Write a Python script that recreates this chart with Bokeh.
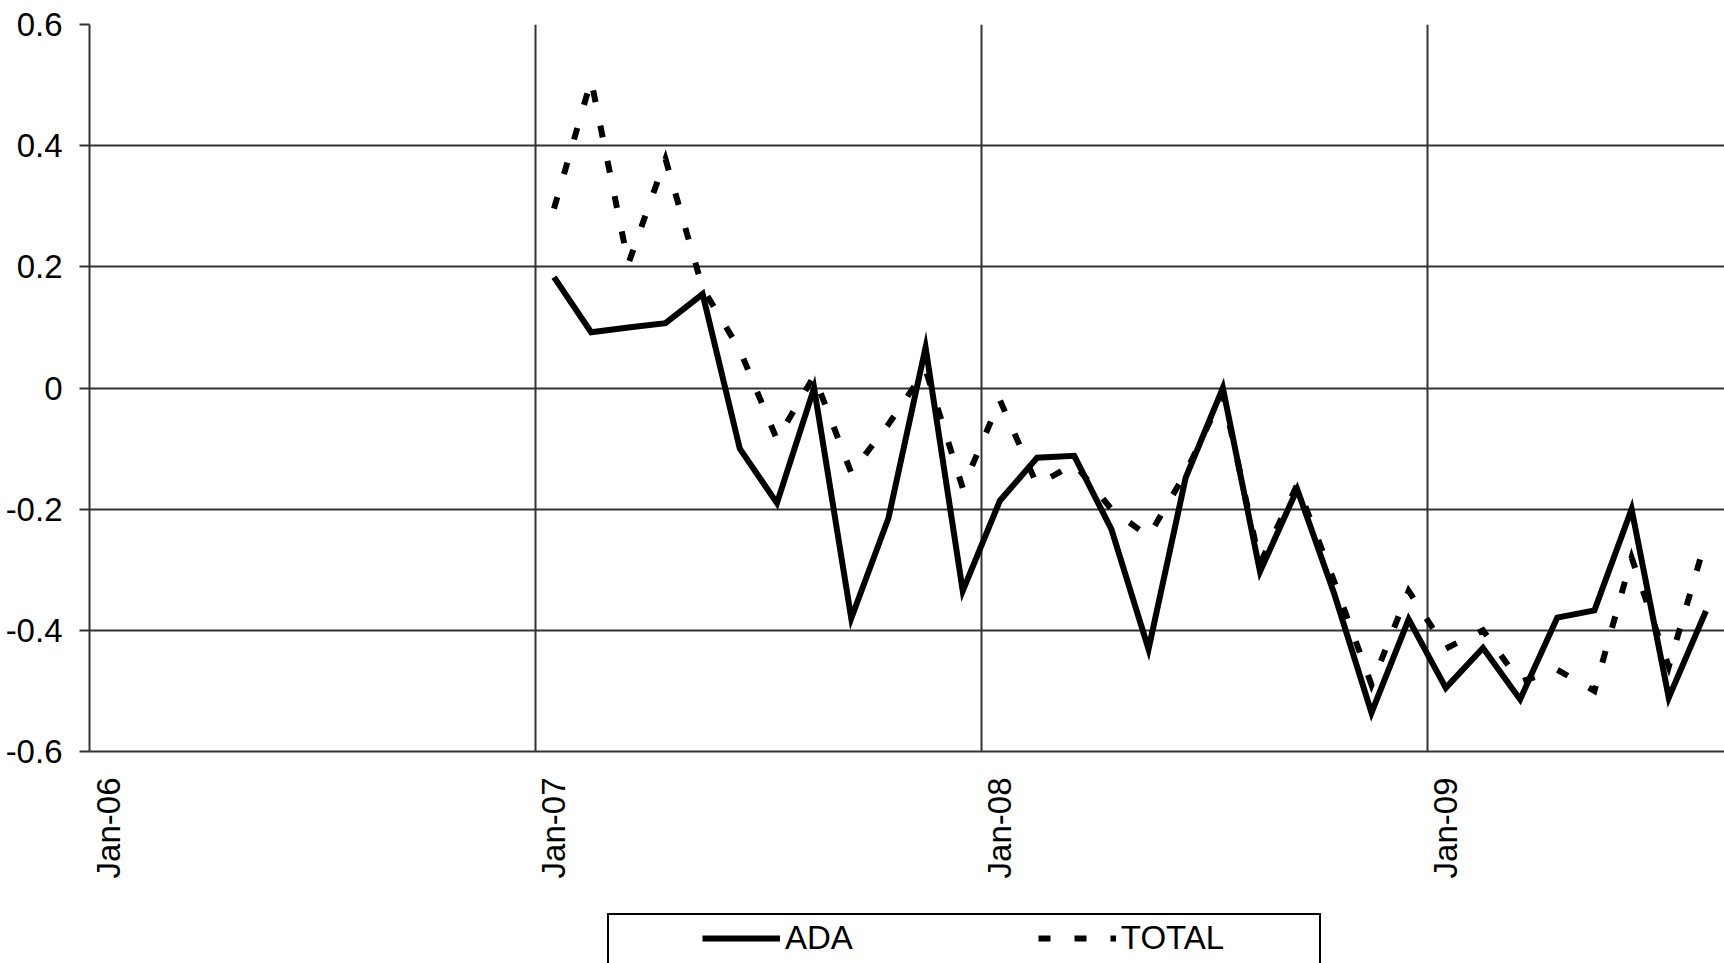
import math
from bokeh.plotting import figure
from bokeh.layouts import column
from bokeh.models import FixedTicker, Legend, LegendItem
from bokeh.embed import file_html
from bokeh.resources import INLINE

# ---- data ----
months = [
    "2007-01", "2007-02", "2007-03", "2007-04", "2007-05", "2007-06",
    "2007-07", "2007-08", "2007-09", "2007-10", "2007-11", "2007-12",
    "2008-01", "2008-02", "2008-03", "2008-04", "2008-05", "2008-06",
    "2008-07", "2008-08", "2008-09", "2008-10", "2008-11", "2008-12",
    "2009-01", "2009-02", "2009-03", "2009-04", "2009-05", "2009-06",
    "2009-07", "2009-08",
]
ada = [
    0.183, 0.092, 0.100, 0.107, 0.155, -0.100,
    -0.190, 0.000, -0.380, -0.215, 0.067, -0.335,
    -0.186, -0.115, -0.112, -0.233, -0.431, -0.148,
    0.000, -0.303, -0.167, -0.340, -0.536, -0.382,
    -0.495, -0.429, -0.514, -0.379, -0.367, -0.200,
    -0.511, -0.368,
]
total = [
    0.296, 0.508, 0.205, 0.378, 0.165, 0.063,
    -0.085, 0.020, -0.140, -0.060, 0.030, -0.165,
    -0.020, -0.160, -0.125, -0.200, -0.245, -0.140,
    -0.010, -0.290, -0.160, -0.320, -0.490, -0.335,
    -0.430, -0.400, -0.485, -0.465, -0.500, -0.280,
    -0.460, -0.250,
]
x_tick_months = ["2006-01", "2007-01", "2008-01", "2009-01"]
x_tick_labels = ["Jan-06", "Jan-07", "Jan-08", "Jan-09"]
y_ticks = [-0.6, -0.4, -0.2, 0, 0.2, 0.4, 0.6]
y_tick_labels = ["-0.6", "-0.4", "-0.2", "0", "0.2", "0.4", "0.6"]
series_names = ["ADA", "TOTAL"]


def month_index(s):
    y, m = map(int, s.split("-"))
    return (y - 2006) * 12 + (m - 1)


# points sit in the middle of their month (category-style date axis)
x = [month_index(m) + 0.5 for m in months]

FONT = "Liberation Sans"
GRID = "#333333"
ADA_STYLE = dict(line_color="black", line_width=6, line_join="miter")
TOT_STYLE = dict(line_color="black", line_width=6, line_join="miter",
                 line_dash="12 24")

p = figure(
    width=1724, height=900,
    x_range=(0, 44), y_range=(-0.6, 0.6),
    output_backend="svg", toolbar_location=None,
    min_border_left=89, min_border_right=0,
    min_border_top=24, min_border_bottom=149,
    outline_line_color=None,
)
p.background_fill_color = "white"
p.border_fill_color = "white"

# x axis: gridlines at year starts, labels centred on January
p.xgrid.ticker = FixedTicker(ticks=[month_index(m) for m in x_tick_months])
p.xaxis.ticker = FixedTicker(ticks=[month_index(m) + 0.5 for m in x_tick_months])
p.xaxis.major_label_overrides = {
    month_index(m) + 0.5: lab for m, lab in zip(x_tick_months, x_tick_labels)
}
p.xaxis.major_label_orientation = math.pi / 2
p.xaxis.major_tick_out = 0
p.xaxis.major_tick_in = 0
p.xaxis.minor_tick_out = 0
p.xaxis.minor_tick_in = 0
p.xaxis.major_label_standoff = 26
p.xaxis.axis_line_color = GRID
p.xaxis.axis_line_width = 2

# y axis
p.yaxis.ticker = FixedTicker(ticks=y_ticks)
p.yaxis.major_label_overrides = dict(zip(y_ticks, y_tick_labels))
p.yaxis.major_tick_out = 10
p.yaxis.major_tick_in = 0
p.yaxis.minor_tick_out = 0
p.yaxis.minor_tick_in = 0
p.yaxis.major_tick_line_color = GRID
p.yaxis.major_tick_line_width = 2
p.yaxis.major_label_standoff = 17
p.yaxis.axis_line_color = GRID
p.yaxis.axis_line_width = 2

for ax in (p.xaxis, p.yaxis):
    ax.major_label_text_font = FONT
    ax.major_label_text_font_size = "33px"
    ax.major_label_text_color = "black"

for g in (p.xgrid, p.ygrid):
    g.grid_line_color = GRID
    g.grid_line_width = 2

r_ada = p.line(x, ada, **ADA_STYLE)
r_tot = p.line(x, total, **TOT_STYLE)

# ---- legend strip below the chart ----
# (its frame is aligned with the main frame by the column layout, so
#  legend positions are relative to x = 89 px)
lg = figure(
    width=1724, height=63, x_range=(0, 1), y_range=(5, 6),
    output_backend="svg", toolbar_location=None,
    x_axis_type=None, y_axis_type=None,
    min_border=0, min_border_left=0, min_border_right=0,
    min_border_top=0, min_border_bottom=0,
    outline_line_color=None,
)
lg.grid.visible = False
lg.background_fill_color = "white"
lg.border_fill_color = "white"

# same series, drawn off-screen in this strip, only to feed the legend
l_ada = lg.line(x, ada, **ADA_STYLE)
l_tot = lg.line(x, total, **TOT_STYLE)
l_box = lg.line(x, ada, line_alpha=0)

box = Legend(
    items=[LegendItem(label=" ", renderers=[l_box])],
    location=(518, -24), orientation="horizontal",
    padding=0, margin=0, spacing=0,
    glyph_width=710, glyph_height=70,
    label_width=0, label_height=70, label_standoff=0,
    label_text_font_size="1px",
    border_line_color="black", border_line_width=2, border_line_alpha=1.0,
    background_fill_color="white", background_fill_alpha=1.0,
)
lg.add_layout(box)

leg = Legend(
    items=[LegendItem(label=series_names[0], renderers=[l_ada]),
           LegendItem(label=series_names[1], renderers=[l_tot])],
    location=(613, 0), orientation="horizontal",
    padding=0, margin=0, spacing=185,
    glyph_width=78, glyph_height=50,
    label_width=0, label_height=50, label_standoff=5,
    label_text_font=FONT, label_text_font_size="33px",
    label_text_color="black",
    border_line_color=None, background_fill_alpha=0.0,
)
lg.add_layout(leg)

layout = column(p, lg, spacing=0)
open("out.html", "w").write(file_html(layout, INLINE))
